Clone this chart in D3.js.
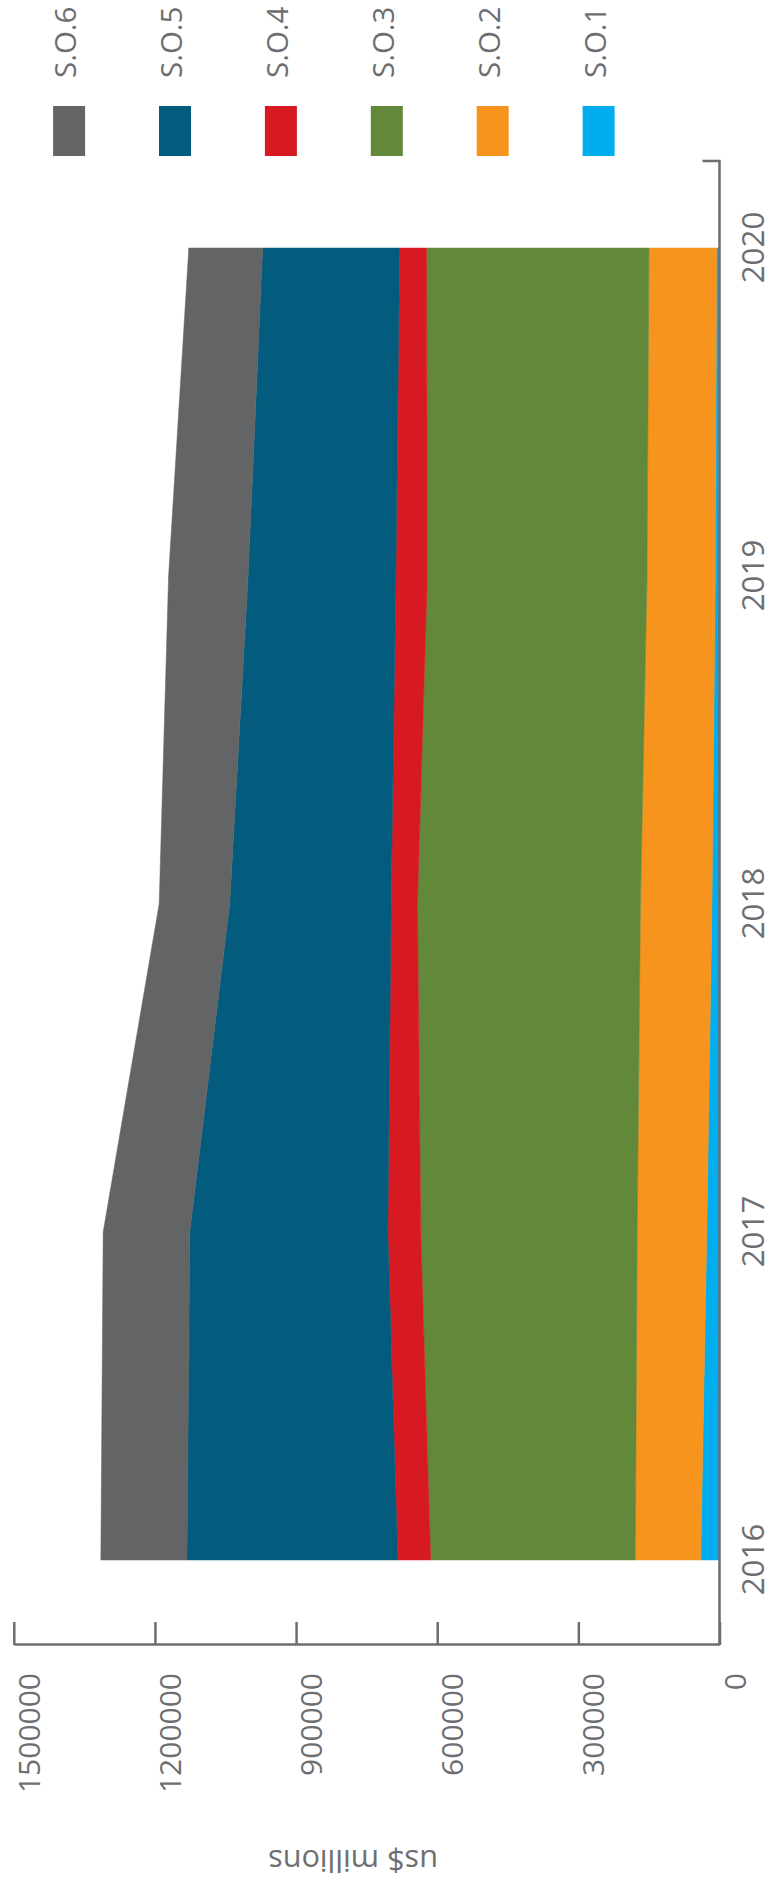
<!DOCTYPE html>
<html>
<head>
<meta charset="utf-8">
<script src="https://cdn.jsdelivr.net/npm/d3@7"></script>
<style>
body { margin: 0; background: #fff; }
text { font-family: "Open Sans", sans-serif; fill: #6d6e71; }
</style>
</head>
<body>
<div id="chart"></div>
<script>
// stacked area, us$ millions per S.O., 2016-2020
// the whole chart is drawn lying on its side (rotated -90)

var years = [2016, 2017, 2018, 2019, 2020];
var so1 = [40000, 27000, 16000, 9000, 6000];
var so2 = [139000, 148000, 152000, 145000, 144000];
var so3 = [435000, 460000, 474000, 467000, 473000];
var so4 = [70000, 70000, 56000, 67000, 57000];
var so5 = [448000, 421000, 343000, 314000, 291000];
var so6 = [183000, 184000, 150000, 169000, 157000];
var seriesNames = ["S.O.1", "S.O.2", "S.O.3", "S.O.4", "S.O.5", "S.O.6"];
var seriesColors = ["#00aeef", "#f7941d", "#62883a", "#d71a22", "#035b7e", "#636466"];
var valueTicks = [0, 300000, 600000, 900000, 1200000, 1500000];
var axisTitle = "us$ millions";

var svgWidth = 772;
var svgHeight = 1886;
var axisColor = "#6d6e71";

var svg = d3.select("#chart")
    .append("svg")
    .attr("width", svgWidth)
    .attr("height", svgHeight);

// inside this group: u runs along the long side (years), v along the short side (values)
var chartGroup = svg.append("g")
    .attr("transform", `translate(0, ${svgHeight}) rotate(-90)`);

var axisU = 241;       // value axis position
var axisEnd = 1725;    // far end of the year axis

var xScale = d3.scalePoint()
    .domain(years)
    .range([326, 1638]);

var yScale = d3.scaleLinear()
    .domain([0, 1500000])
    .range([719.5, 13.8]);

// build rows for the stack
var allSeries = [so1, so2, so3, so4, so5, so6];
var rows = years.map(function(y, i) {
    var row = { year: y };
    seriesNames.forEach(function(name, k) { row[name] = allSeries[k][i]; });
    return row;
});

var stacked = d3.stack().keys(seriesNames)(rows);

var area = d3.area()
    .x(d => xScale(d.data.year))
    .y0(d => yScale(d[0]))
    .y1(d => yScale(d[1]));

chartGroup.selectAll(".layer")
    .data(stacked)
    .enter()
    .append("path")
    .attr("class", "layer")
    .attr("d", area)
    .attr("fill", (d, i) => seriesColors[i])
    .attr("stroke", (d, i) => seriesColors[i])
    .attr("stroke-width", 0.5);

// value axis, ticks pointing into the plot
var leftAxis = d3.axisLeft(yScale)
    .tickValues(valueTicks)
    .tickSizeInner(-23)
    .tickSizeOuter(0)
    .tickPadding(28)
    .tickFormat(d3.format("d"));

var yAxisG = chartGroup.append("g")
    .attr("transform", `translate(${axisU}, 0)`)
    .attr("font-size", null)
    .attr("font-family", null)
    .call(leftAxis);

yAxisG.selectAll("line, path")
    .attr("stroke", axisColor)
    .attr("stroke-width", 2.5);
yAxisG.selectAll("text")
    .attr("dy", 25.5);

// year axis
chartGroup.append("path")
    .attr("d", `M${axisU},${yScale(0)}H${axisEnd}V702.5`)
    .attr("fill", "none")
    .attr("stroke", axisColor)
    .attr("stroke-width", 2.5);

var bottomAxis = d3.axisBottom(xScale).tickSize(0);
var xAxisG = chartGroup.append("g")
    .attr("transform", `translate(0, ${yScale(0)})`)
    .attr("font-size", null)
    .attr("font-family", null)
    .call(bottomAxis);
xAxisG.select(".domain").remove();
xAxisG.selectAll("text")
    .attr("y", 44)
    .attr("dy", 0);

// axis title
var title = chartGroup.append("text")
    .attr("transform", "translate(36, 353) rotate(-90)")
    .attr("text-anchor", "middle")
    .text(axisTitle);

// legend, S.O.6 first
var legendOrder = seriesNames.map((n, i) => i).reverse();
var legend = chartGroup.selectAll(".legend")
    .data(legendOrder)
    .enter()
    .append("g")
    .attr("class", "legend")
    .attr("transform", (d, i) => `translate(1730, ${53.1 + i * 105.9})`);

legend.append("rect")
    .attr("width", 50)
    .attr("height", 32)
    .attr("fill", d => seriesColors[d]);

var legendText = legend.append("text")
    .attr("x", 78)
    .attr("y", 23)
    .text(d => seriesNames[d]);

// size each group of texts so its longest label has the wanted length
function fitFont(sel, wanted) {
    sel.style("font-size", "30px");
    var longest = d3.max(sel.nodes(), n => n.getComputedTextLength());
    sel.style("font-size", (30 * wanted / longest).toFixed(1) + "px");
}
fitFont(yAxisG.selectAll("text"), 120);
fitFont(xAxisG.selectAll("text"), 71.5);
fitFont(legendText, 71.5);
fitFont(title, 170);
</script>
</body>
</html>
